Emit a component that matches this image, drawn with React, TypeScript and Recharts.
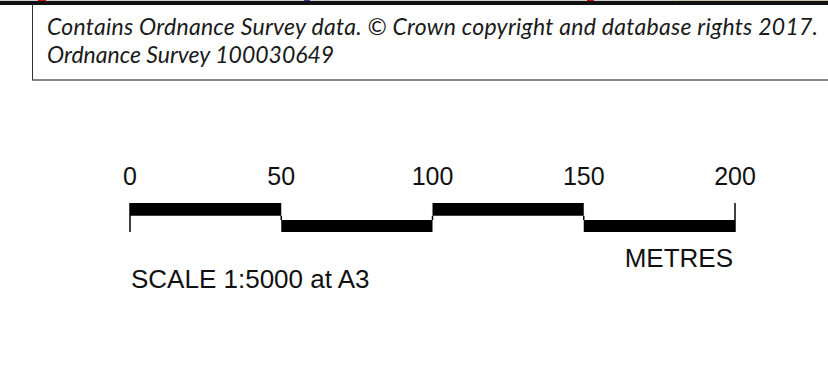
import { ComposedChart, XAxis, YAxis, Line, ReferenceArea, ReferenceLine } from 'recharts'

// scale bar, metres
const scaleTicks = [0, 50, 100, 150, 200]
const segmentFrom = [0, 50, 100, 150]
const segmentTo = [50, 100, 150, 200]
const segmentRow = ['upper', 'lower', 'upper', 'lower']

const unitLabel = 'METRES'
const scaleNote = 'SCALE 1:5000 at A3'
const creditLines = [
  'Contains Ordnance Survey data. © Crown copyright and database rights 2017.',
  'Ordnance Survey 100030649',
]

// band extents in the hidden y domain [0, 1]
const ROWS: Record<string, [number, number]> = {
  upper: [0.56, 1],
  lower: [0, 0.41],
}

const tickData = scaleTicks.map((m, i) => ({ m, level: i % 2 === 0 ? 1 : 0 }))

export default function App() {
  return (
    <div
      style={{
        position: 'absolute',
        left: 0,
        top: 0,
        width: 828,
        height: 382,
        background: '#fff',
        overflow: 'hidden',
      }}
    >
      {/* strip of map edge at the top */}
      <div style={{ position: 'absolute', left: 0, top: 0, width: 828, height: 1, background: '#cfcfcf' }} />
      <div style={{ position: 'absolute', left: 38, top: 0, width: 8, height: 1, background: '#d01010' }} />
      <div style={{ position: 'absolute', left: 304, top: 0, width: 6, height: 1, background: '#3a3a9a' }} />
      <div style={{ position: 'absolute', left: 587, top: 0, width: 7, height: 1, background: '#d01010' }} />
      <div style={{ position: 'absolute', left: 678, top: 0, width: 150, height: 1, background: '#c9c6a8' }} />
      <div style={{ position: 'absolute', left: 0, top: 1, width: 828, height: 4, background: '#111' }} />

      {/* credit box */}
      <div
        style={{
          position: 'absolute',
          left: 32,
          top: 5,
          width: 820,
          height: 74,
          borderLeft: '1.5px solid #333',
          borderBottom: '2px solid #888',
        }}
      />
      <svg width={828} height={382} style={{ position: 'absolute', left: 0, top: 0 }}>
        {creditLines.map((line, i) => (
          <text
            key={i}
            x={47}
            y={35 + i * 28}
            fontFamily="Lato, 'Open Sans', sans-serif"
            fontStyle="italic"
            fontSize={23}
            fill="#1a1a1a"
            textLength={i === 0 ? 771 : undefined}
            lengthAdjust="spacing"
          >
            {line}
          </text>
        ))}
        <text x={733} y={267} textAnchor="end" fontFamily="'Liberation Sans', Arial, sans-serif" fontSize={26} fill="#111">
          {unitLabel}
        </text>
        <text x={131} y={288} fontFamily="'Liberation Sans', Arial, sans-serif" fontSize={26} fill="#111">
          {scaleNote}
        </text>
      </svg>

      <div style={{ position: 'absolute', left: 0, top: 0 }}>
        <ComposedChart
          width={828}
          height={382}
          data={tickData}
          margin={{ top: 173, right: 93, bottom: 150, left: 130 }}
        >
          <XAxis
            dataKey="m"
            type="number"
            orientation="top"
            domain={[0, 200]}
            ticks={scaleTicks}
            axisLine={false}
            tickLine={false}
            tickMargin={12}
            interval={0}
            tick={{ fontSize: 25, fill: '#111', fontFamily: "'Liberation Sans', Arial, sans-serif" }}
          />
          <YAxis type="number" domain={[0, 1]} hide />
          <Line dataKey="level" stroke="none" dot={false} activeDot={false} isAnimationActive={false} />
          {segmentFrom.map((from, i) => {
            const [y1, y2] = ROWS[segmentRow[i]]
            return (
              <ReferenceArea
                key={`seg-${i}`}
                x1={from}
                x2={segmentTo[i]}
                y1={y1}
                y2={y2}
                fill="#000"
                fillOpacity={1}
                stroke="none"
                ifOverflow="visible"
              />
            )
          })}
          {segmentTo.slice(0, -1).map((x, i) => (
            <ReferenceLine
              key={`join-${i}`}
              segment={[
                { x, y: ROWS.lower[1] },
                { x, y: ROWS.upper[0] },
              ]}
              stroke="#000"
              strokeWidth={1.5}
              ifOverflow="visible"
            />
          ))}
          <ReferenceLine x={scaleTicks[0]} stroke="#000" strokeWidth={1.5} ifOverflow="visible" />
          <ReferenceLine x={scaleTicks[scaleTicks.length - 1]} stroke="#000" strokeWidth={1.5} ifOverflow="visible" />
        </ComposedChart>
      </div>
    </div>
  )
}
